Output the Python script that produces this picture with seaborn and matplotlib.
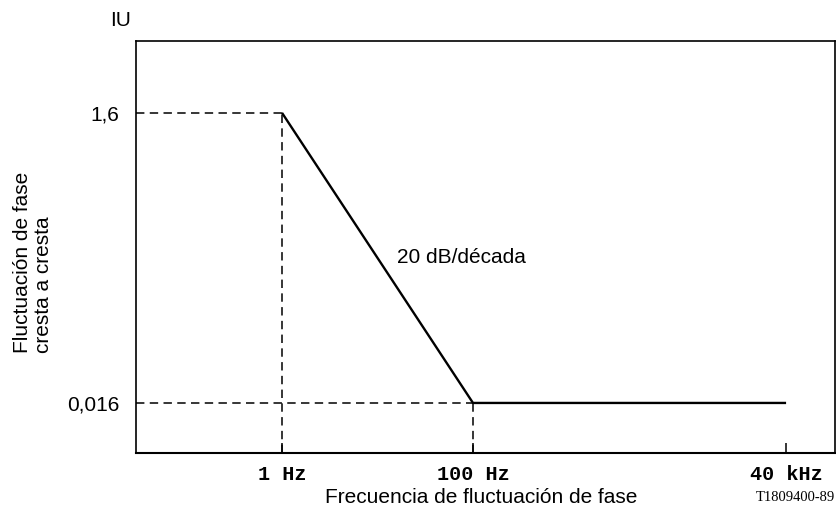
import numpy as np
import matplotlib
matplotlib.use("Agg")
import matplotlib.pyplot as plt
import seaborn as sns

# Jitter tolerance mask: peak-to-peak phase jitter vs. jitter frequency
freq_hz = [1, 100, 40000]
jitter_ui = [1.6, 0.016, 0.016]
x_tick_labels = ["1 Hz", "100 Hz", "40 kHz"]
y_tick_labels = ["1,6", "0,016"]
slope_label = "20 dB/década"

sns.set_style("white")
plt.rcParams["font.family"] = ["Liberation Sans", "DejaVu Sans"]
plt.rcParams["text.color"] = "black"
plt.rcParams["axes.labelcolor"] = "black"

# The frequency axis is drawn schematically: decades above 100 Hz are
# stretched relative to those below it.
STRETCH = 1.26
BREAK = 2.0


def fwd(f):
    u = np.log10(np.clip(np.asarray(f, dtype=float), 1e-12, None))
    return np.where(u <= BREAK, u, BREAK + STRETCH * (u - BREAK))


def inv(v):
    v = np.asarray(v, dtype=float)
    return np.where(v <= BREAK, 10.0 ** v, 10.0 ** (BREAK + (v - BREAK) / STRETCH))


W, H = 836, 511
fig = plt.figure(figsize=(W / 100, H / 100), dpi=100)
ax = fig.add_axes([136 / W, (H - 453) / H, (835 - 136) / W, (453 - 41) / H])

ax.set_xscale("function", functions=(fwd, inv))
ax.set_yscale("log")
x_min, x_max = 0.0296, 1.02e5
y_min, y_max = 0.00723, 5.0
ax.set_xlim(x_min, x_max)
ax.set_ylim(y_min, y_max)

# Mask
sns.lineplot(x=freq_hz, y=jitter_ui, color="black", lw=1.7, ax=ax,
             solid_capstyle="butt")

# Dashed guide lines to the corner points
dash = dict(color="black", lw=1.1, ls=(0, (5.5, 3.5)))
ax.plot([x_min, freq_hz[0]], [jitter_ui[0], jitter_ui[0]], **dash)
ax.plot([x_min, freq_hz[1]], [jitter_ui[1], jitter_ui[1]], **dash)
ax.plot([freq_hz[0], freq_hz[0]], [y_min, jitter_ui[0]], **dash)
ax.plot([freq_hz[1], freq_hz[1]], [y_min, jitter_ui[1]], **dash)

# Axes frame
for side in ["left", "right", "top", "bottom"]:
    ax.spines[side].set_visible(True)
    ax.spines[side].set_color("black")
    ax.spines[side].set_linewidth(1.2)
ax.spines["bottom"].set_linewidth(1.5)

ax.xaxis.set_minor_locator(matplotlib.ticker.NullLocator())
ax.yaxis.set_minor_locator(matplotlib.ticker.NullLocator())
ax.set_xticks(freq_hz)
ax.set_xticklabels(x_tick_labels, family="Liberation Mono", fontweight="bold",
                   fontsize=14.5)
ax.set_yticks(jitter_ui[:2])
ax.set_yticklabels(y_tick_labels, fontsize=15)
ax.tick_params(axis="x", direction="in", length=7, width=1.1, pad=8.5,
               colors="black", bottom=True)
ax.tick_params(axis="y", length=0, pad=12, colors="black", left=True)
ax.grid(False)

ax.text((461 - 136) / 699, (453 - 257) / 412, slope_label, transform=ax.transAxes,
        ha="center", va="center", fontsize=15)

fig.text(121 / W, 1 - 21 / H, "IU", ha="center", va="center", fontsize=15)
fig.text(33 / W, 1 - 262 / H, "Fluctuación de fase\ncresta a cresta",
         rotation=90, ha="center", va="center", multialignment="left",
         fontsize=15, linespacing=1.15)
fig.text(481 / W, 1 - 497 / H, "Frecuencia de fluctuación de fase",
         ha="center", va="center", fontsize=15)
fig.text(795 / W, 1 - 497 / H, "T1809400-89", ha="center", va="center",
         family="Liberation Serif", fontsize=10.5)

fig.savefig("out.png", dpi=100, facecolor="white")
